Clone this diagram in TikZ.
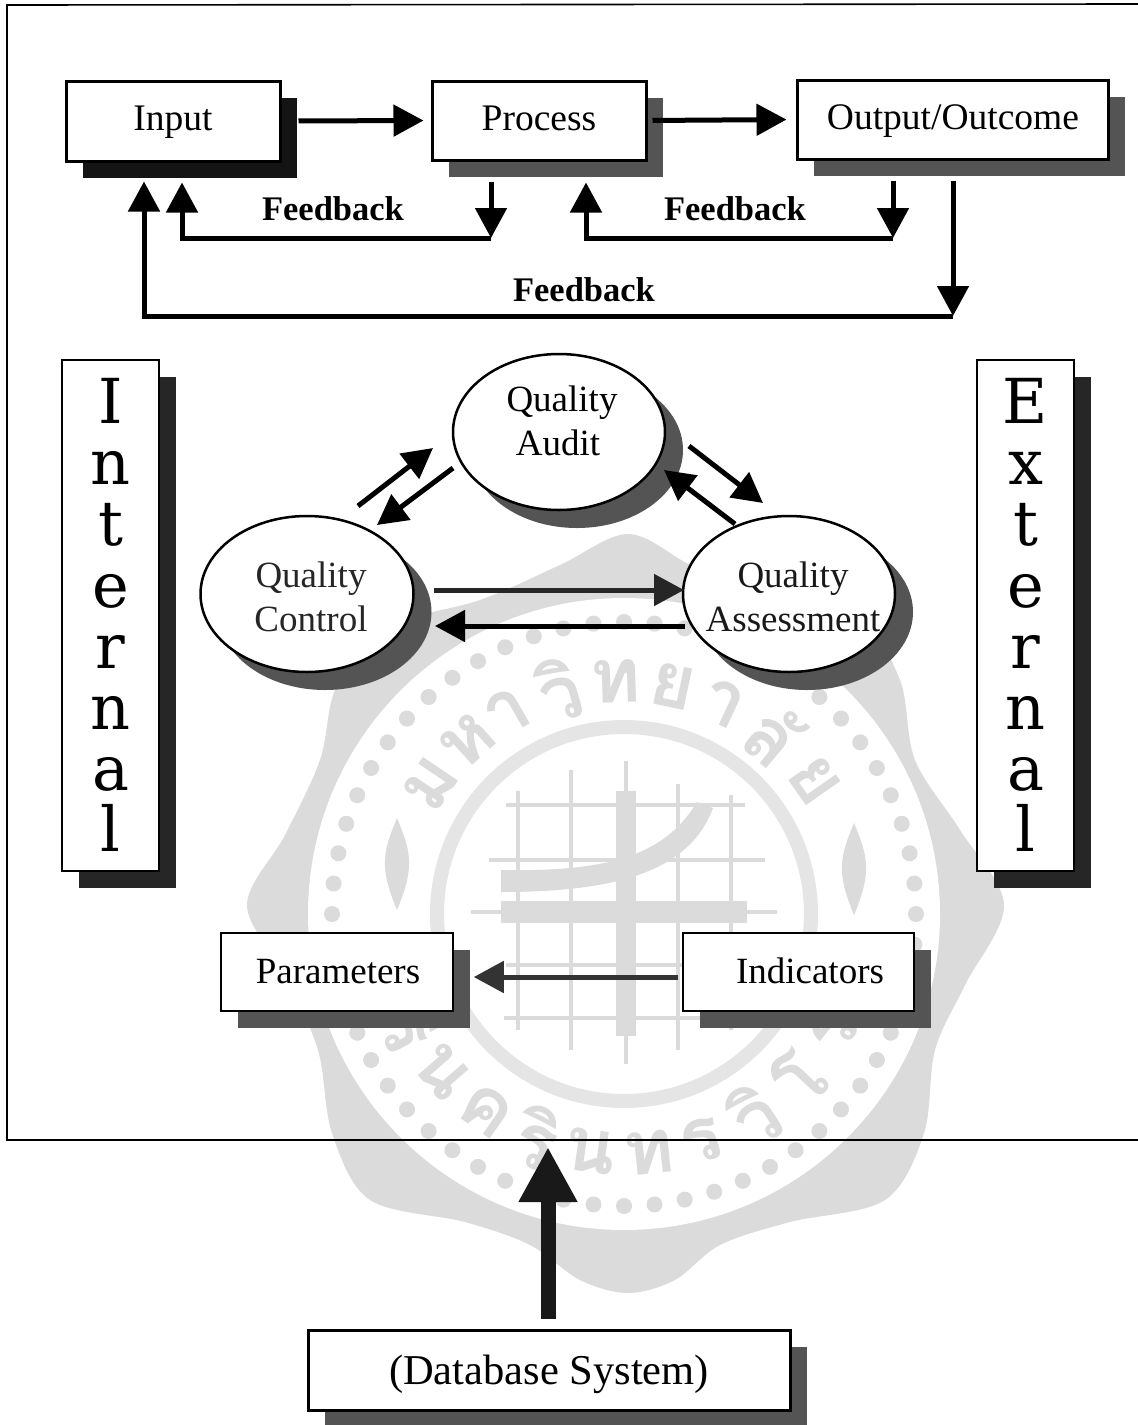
\documentclass[tikz,border=0pt]{standalone}
\usepackage{fontspec}
\setmainfont{Liberation Serif}
\newfontfamily\widefont{DejaVu Serif}
\newfontfamily\thaifont[Script=Thai]{Loma}
\usetikzlibrary{arrows.meta,shapes.geometric}
\definecolor{seal}{gray}{0.86}
\definecolor{sealring}{gray}{0.90}
\definecolor{dith}{gray}{0.33}
\tikzset{
  boxbase/.style={draw=black,fill=white,rectangle,inner sep=0pt,text=black},
  thickbox/.style={boxbase,line width=3pt},
  thinbox/.style={boxbase,line width=1.5pt},
  oval/.style={draw=black,fill=white,ellipse,inner sep=0pt,line width=2.5pt},
  shade1/.style={preaction={draw=none,fill=#1,transform canvas={xshift=17pt,yshift=-16.5pt}}},
  shade2/.style={preaction={draw=none,fill=#1,transform canvas={xshift=18pt,yshift=-18pt}}},
  conn/.style={line width=5pt,-{Triangle[length=30pt,width=31pt]},black},
  fblabel/.style={font=\bfseries\fontsize{34.5}{36}\selectfont,inner sep=0pt},
  maintext/.style={inner sep=0pt,align=center,font=\fontsize{37}{44}\selectfont},
  lettertext/.style={inner sep=0pt,align=center,font=\widefont\fontsize{62}{61.2}\selectfont},
  sealtext/.style={seal,font=\thaifont\bfseries\fontsize{76}{76}\selectfont,inner sep=0pt},
}
\begin{document}
\begin{tikzpicture}[x=1pt,y=-1pt]
\useasboundingbox (0,0) rectangle (1138,1425);
\fill[white] (0,0) rectangle (1138,1425);
% ---- watermark seal
\fill[seal] plot[smooth cycle,tension=0.55] coordinates {(628,534)(690,565)(760,600)(860,625)(900,680)(915,760)(960,830)(1004,905)(965,985)(935,1050)(924,1133)(885,1200)(790,1222)(720,1245)(675,1280)(628,1293)(580,1280)(530,1245)(465,1222)(370,1200)(332,1133)(318,1050)(285,975)(247,905)(285,835)(320,760)(335,690)(375,630)(480,600)(560,565)};
\fill[white] (624,914) circle[radius=316];
\foreach \a in {0,6,...,354}{
  \fill[seal] ({624+292*cos(\a)},{914+292*sin(\a)}) circle[radius=8];
}
\draw[sealring,line width=14pt] (624,914) circle[radius=187];
\foreach \ang/\t in {146/ม,132/ห,120/า,106/วิ,92/ท,78/ย,65/า,50/ลั,35/ย}{
  \node[sealtext,rotate=\ang-90] at ({624+233*cos(\ang)},{914-233*sin(\ang)}) {\t};
}
\foreach \ang/\t in {194/ศ,208/รี,221/น,235/ค,249/ริ,262/น,276/ท,289/ร,303/วิ,317/โ,331/ร,345/ฒ}{
  \node[sealtext,rotate=\ang+90] at ({624+240*cos(\ang)},{914-240*sin(\ang)}) {\t};
}
\begin{scope}[seal]
  \draw[line width=20pt] (626,791) -- (626,1036);
  \draw[line width=3.5pt] (626,761) -- (626,1064);
  \draw[line width=3.5pt] (518,791) -- (518,1030) (571,770) -- (571,1050) (678,784) -- (678,1050) (731,795) -- (731,1030);
  \draw[line width=3.5pt] (506,805) -- (745,805) (489,860) -- (765,860) (471,912) -- (777,912) (506,965) -- (737,965) (504,1018) -- (740,1018);
  \draw[line width=22pt] (501,912) -- (747,912);
  \fill (501,870) .. controls (610,872) and (665,855) .. (697,802) -- (713,808) .. controls (690,870) and (620,892) .. (501,892) -- cycle;
  \fill (397,818) .. controls (384,850) and (378,865) .. (397,910) .. controls (416,865) and (410,850) .. (397,818) -- cycle;
  \fill (854,823) .. controls (841,855) and (835,870) .. (854,915) .. controls (873,870) and (867,855) .. (854,823) -- cycle;
\end{scope}
% ---- frame
\draw[line width=1.6pt,black] (1138,4) -- (7,5) -- (7,1140) -- (1138,1140);
% ---- top row
\node[thickbox,shade1=black!92,minimum width=214pt,minimum height=80pt] (input) at (173,121) {};
\node[thickbox,shade1=dith,minimum width=214pt,minimum height=79pt] (process) at (539,120.5) {};
\node[thickbox,shade1=dith,minimum width=311pt,minimum height=79pt] (output) at (952.5,119.5) {};
\node[maintext,font=\fontsize{37.5}{44}\selectfont] (inputt) at (173,122) {Input};
\node[maintext,font=\fontsize{37.5}{44}\selectfont] (processt) at (539,118) {Process};
\node[maintext,font=\fontsize{37.5}{44}\selectfont] (outputt) at (953,121) {Output/Outcome};
\draw[conn,shorten <=17pt,shorten >=7pt] (input.east) -- (process.west);
\draw[conn,shorten <=5pt,shorten >=9pt] (process.east) -- (output.west);
% feedback loops
\coordinate (fa) at (491,238);
\coordinate (fb) at (893,238);
\coordinate (fc) at (953,316);
\draw[conn] ([shift={(-48pt,-20pt)}]process.south) -- (fa);
\draw[conn] (fa) -- (182,238) -- ([shift={(9pt,-20pt)}]input.south);
\draw[conn] ([shift={(-59.5pt,-20pt)}]output.south) -- (fb);
\draw[conn] (fb) -- (586,238) -- ([shift={(47pt,-21pt)}]process.south);
\draw[conn] ([shift={(0.5pt,-20pt)}]output.south) -- (fc);
\draw[conn] (fc) -- (144,316) -- ([shift={(-29pt,-19pt)}]input.south);
\node[fblabel] (fb1) at (333,209) {Feedback};
\node[fblabel] (fb2) at (735,209) {Feedback};
\node[fblabel] (fb3) at (584,290) {Feedback};
% ---- side columns
\node[thinbox,shade1=black!85,minimum width=97pt,minimum height=511pt] (internal) at (110.5,615.5) {};
\node[thinbox,shade1=black!85,minimum width=97pt,minimum height=511pt] (external) at (1025.5,615.5) {};
\node[lettertext] (intt) at (110.5,615) {I\\n\\t\\e\\r\\n\\a\\l};
\node[lettertext] (extt) at (1025.5,615) {E\\x\\t\\e\\r\\n\\a\\l};
% ---- ovals
\node[oval,shade2=dith,minimum width=212pt,minimum height=156pt] (audit) at (559,432) {};
\node[oval,shade2=dith,minimum width=213pt,minimum height=156pt] (control) at (307,594) {};
\node[oval,shade2=dith,minimum width=212pt,minimum height=156pt] (assess) at (789,594) {};
\node[maintext] (auditt) at (559,421) {\hspace*{6pt}Quality\\\hspace*{-2pt}Audit};
\node[maintext,text=black!85] (controlt) at (311,597) {Quality\\Control};
\node[maintext,text=black!90] (assesst) at (793,597) {Quality\\Assessment};
\coordinate (c1) at (358,506);
\coordinate (c2) at (433,448);
\coordinate (c3) at (453,468);
\coordinate (c4) at (377,525);
\coordinate (a1) at (689,446);
\coordinate (a2) at (763,503);
\coordinate (a3) at (735,524);
\coordinate (a4) at (664,470);
\draw[conn] (c1) -- (c2);
\draw[conn] (c3) -- (c4);
\draw[conn] (a1) -- (a2);
\draw[conn] (a3) -- (a4);
\coordinate (h1) at (434,590);
\coordinate (h2) at (684,590);
\coordinate (h3) at (685,626);
\coordinate (h4) at (435,626);
\draw[conn,black!85] (h1) -- (h2);
\draw[conn] (h3) -- (h4);
% ---- parameters / indicators
\node[thinbox,shade1=dith,minimum width=232pt,minimum height=78pt] (param) at (337,972) {};
\node[thinbox,shade1=dith,minimum width=231pt,minimum height=78pt] (indic) at (798.5,972) {};
\node[maintext] (paramt) at (338,972) {Parameters};
\node[maintext] (indict) at (810,971) {Indicators};
\draw[conn,black!80,shorten <=4pt,shorten >=20pt] ([yshift=-5pt]indic.west) -- ([yshift=-5pt]param.east);
% ---- database
\node[thickbox,shade1=dith,minimum width=482pt,minimum height=80pt] (db) at (549,1370) {};
\node[maintext,font=\fontsize{42.5}{50}\selectfont] (dbt) at (549,1374) {(Database System)};
\draw[line width=15pt,black!90,-{Triangle[length=55pt,width=55pt]},shorten <=10pt] (db.north -| 548,1330) -- (548,1147);
\end{tikzpicture}
\end{document}
